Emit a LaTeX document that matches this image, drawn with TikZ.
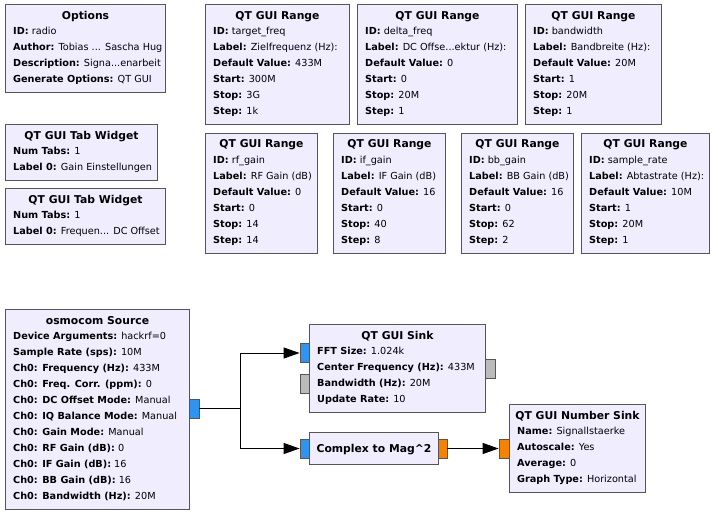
\documentclass[tikz,border=0pt]{standalone}
\usepackage{fontspec}
\setmainfont{DejaVu Sans}
\usetikzlibrary{arrows.meta,calc}
\definecolor{blkfill}{HTML}{F0EDFF}
\definecolor{blkedge}{HTML}{555555}
\definecolor{cplx}{HTML}{2F93F0}
\definecolor{flt}{HTML}{F58200}
\definecolor{msg}{HTML}{BBBBBB}
\newcommand\tdots{...}
\tikzset{
  blockbox/.style={draw=blkedge, fill=blkfill, line width=1pt, inner sep=0pt, anchor=north west},
  blktitle/.style={font=\fontsize{10.8}{12}\selectfont\bfseries, inner sep=0pt, anchor=base},
  blktext/.style={font=\fontsize{9.7}{11}\selectfont, inner sep=0pt, anchor=base west},
  port/.style={draw=blkedge, line width=0.8pt, inner sep=0pt, minimum width=9pt, minimum height=19pt},
  wire/.style={line width=1pt, -{Triangle[length=16pt,width=11pt]}},
  plainwire/.style={line width=1pt},
}
\newcommand\grblk[7]{%
  \node[blockbox, minimum width=#4pt, minimum height=#5pt] (#1) at (#2,#3) {};
  \node[blktitle] (#1-t) at ($(#1.north)+(0,15)$) {#6};
  \foreach [count=\i] \l in {#7} {\node[blktext] (#1-\i) at ($(#1.north west)+(8,14.5+16*\i)$) {\l};}
}
\begin{document}
\begin{tikzpicture}[x=1pt, y=-1pt]
\useasboundingbox (0,0) rectangle (713,515);

\grblk{options}{5}{4}{160}{88}{Options}{{\textbf{ID:} radio},{\textbf{Author:} Tobias \tdots{} Sascha Hug},{\textbf{Description:} Signa\tdots{}enarbeit},{\textbf{Generate Options:} QT GUI}}
\grblk{tabA}{5}{124}{152}{56}{QT GUI Tab Widget}{{\textbf{Num Tabs:} 1},{\textbf{Label 0:} Gain Einstellungen}}
\grblk{tabB}{5}{188}{160}{56}{QT GUI Tab Widget}{{\textbf{Num Tabs:} 1},{\textbf{Label 0:} Frequen\tdots{} DC Offset}}

\grblk{rA}{205}{4}{144}{120}{QT GUI Range}{{\textbf{ID:} target\_freq},{\textbf{Label:} Zielfrequenz (Hz):},{\textbf{Default Value:} 433M},{\textbf{Start:} 300M},{\textbf{Stop:} 3G},{\textbf{Step:} 1k}}
\grblk{rB}{357}{4}{160}{120}{QT GUI Range}{{\textbf{ID:} delta\_freq},{\textbf{Label:} DC Offse\tdots{}ektur (Hz):},{\textbf{Default Value:} 0},{\textbf{Start:} 0},{\textbf{Stop:} 20M},{\textbf{Step:} 1}}
\grblk{rC}{525}{4}{136}{120}{QT GUI Range}{{\textbf{ID:} bandwidth},{\textbf{Label:} Bandbreite (Hz):},{\textbf{Default Value:} 20M},{\textbf{Start:} 1},{\textbf{Stop:} 20M},{\textbf{Step:} 1}}

\grblk{rD}{205}{132.5}{112}{120}{QT GUI Range}{{\textbf{ID:} rf\_gain},{\textbf{Label:} RF Gain (dB)},{\textbf{Default Value:} 0},{\textbf{Start:} 0},{\textbf{Stop:} 14},{\textbf{Step:} 14}}
\grblk{rE}{333}{132.5}{112}{120}{QT GUI Range}{{\textbf{ID:} if\_gain},{\textbf{Label:} IF Gain (dB)},{\textbf{Default Value:} 16},{\textbf{Start:} 0},{\textbf{Stop:} 40},{\textbf{Step:} 8}}
\grblk{rF}{461}{132.5}{112}{120}{QT GUI Range}{{\textbf{ID:} bb\_gain},{\textbf{Label:} BB Gain (dB)},{\textbf{Default Value:} 16},{\textbf{Start:} 0},{\textbf{Stop:} 62},{\textbf{Step:} 2}}
\grblk{rG}{581}{132.5}{128}{120}{QT GUI Range}{{\textbf{ID:} sample\_rate},{\textbf{Label:} Abtastrate (Hz):},{\textbf{Default Value:} 10M},{\textbf{Start:} 1},{\textbf{Stop:} 20M},{\textbf{Step:} 1}}

\grblk{src}{5}{309}{184}{200}{osmocom Source}{{\textbf{Device Arguments:} hackrf=0},{\textbf{Sample Rate (sps):} 10M},{\textbf{Ch0: Frequency (Hz):} 433M},{\textbf{Ch0: Freq. Corr. (ppm):} 0},{\textbf{Ch0: DC Offset Mode:} Manual},{\textbf{Ch0: IQ Balance Mode:} Manual},{\textbf{Ch0: Gain Mode:} Manual},{\textbf{Ch0: RF Gain (dB):} 0},{\textbf{Ch0: IF Gain (dB):} 16},{\textbf{Ch0: BB Gain (dB):} 16},{\textbf{Ch0: Bandwidth (Hz):} 20M}}

\grblk{sink}{309}{324}{176}{88}{QT GUI Sink}{{\textbf{FFT Size:} 1.024k},{\textbf{Center Frequency (Hz):} 433M},{\textbf{Bandwidth (Hz):} 20M},{\textbf{Update Rate:} 10}}

\node[blockbox, minimum width=129pt, minimum height=32pt] (c2m) at (309,432) {};
\node[blktitle] (c2m-t) at ($(c2m.center)+(0,4)$) {Complex to Mag\textasciicircum2};

\grblk{num}{509}{404}{136}{88}{QT GUI Number Sink}{{\textbf{Name:} Signallstaerke},{\textbf{Autoscale:} Yes},{\textbf{Average:} 0},{\textbf{Graph Type:} Horizontal}}

% ports
\node[port, fill=cplx, minimum width=10pt] (src-out) at (194,408.5) {};
\node[port, fill=cplx] (sink-in) at (304.5,353) {};
\node[port, fill=msg] (sink-min) at (304.5,384) {};
\node[port, fill=msg, minimum width=10pt] (sink-mout) at (490,368.5) {};
\node[port, fill=cplx] (c2m-in) at (304.5,448.5) {};
\node[port, fill=flt] (c2m-out) at (442.5,448.5) {};
\node[port, fill=flt, minimum width=10pt] (num-in) at (504,448.5) {};

% connections
\coordinate (split) at (240,408.5);
\draw[plainwire] (src-out.east) -- (split);
\draw[wire] (split) |- (sink-in.west);
\draw[wire] (split) |- (c2m-in.west);
\draw[wire] (c2m-out.east) -- (num-in.west);
\end{tikzpicture}
\end{document}
